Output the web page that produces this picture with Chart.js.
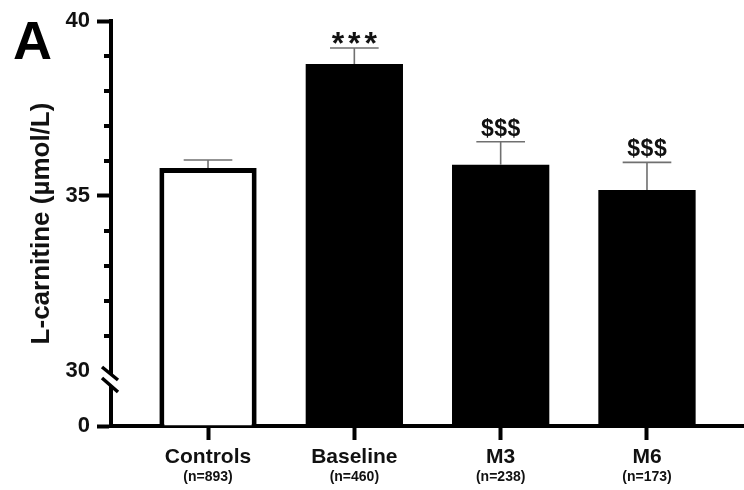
<!DOCTYPE html>
<html>
<head>
<meta charset="utf-8">
<script src="https://cdn.jsdelivr.net/npm/chart.js@4.4.1/dist/chart.umd.min.js"></script>
<style>
  html, body { margin: 0; padding: 0; background: #ffffff; }
  #wrap { width: 744px; height: 490px; }
</style>
</head>
<body>
<div id="wrap"><canvas id="c" width="744" height="490"></canvas></div>
<script>
// ---- data ----
const categories = ['Controls', 'Baseline', 'M3', 'M6'];
const nLabels = ['(n=893)', '(n=460)', '(n=238)', '(n=173)'];
const means = [35.80, 38.77, 35.89, 35.17];
const sems = [0.23, 0.46, 0.66, 0.79];
const marks = ['', '***', '$$$', '$$$'];
const yTickValues = [0, 30, 35, 40];
const yMinorValues = [31, 32, 33, 34, 36, 37, 38, 39];
const yBreak = 30;
const positions = categories.map((c, i) => i);
const fills = ['#ffffff', '#000000', '#000000', '#000000'];
const borderWidths = [5, 0, 0, 0];

const FONT = "'Liberation Sans', Arial, sans-serif";
const LOW_FRAC = 55 / 405; // share of axis height given to 0..30 segment

// ---- broken linear scale ----
class BrokenScale extends Chart.LinearScale {
  static id = 'broken';
  static defaults = {};
  buildTicks() {
    return yTickValues.map(v => ({ value: v }));
  }
  getPixelForValue(value) {
    if (value === null || value === undefined || isNaN(value)) return NaN;
    let d;
    if (value <= yBreak) {
      d = (value - this.min) / (yBreak - this.min) * LOW_FRAC;
    } else {
      d = LOW_FRAC + (value - yBreak) / (this.max - yBreak) * (1 - LOW_FRAC);
    }
    return this.getPixelForDecimal(d);
  }
  getValueForPixel(pixel) {
    const d = this.getDecimalForPixel(pixel);
    if (d <= LOW_FRAC) return this.min + d / LOW_FRAC * (yBreak - this.min);
    return yBreak + (d - LOW_FRAC) / (1 - LOW_FRAC) * (this.max - yBreak);
  }
}
Chart.register(BrokenScale);

const decor = {
  id: 'decor',
  beforeDraw(chart) {
    const ctx = chart.ctx;
    ctx.save();
    ctx.fillStyle = '#ffffff';
    ctx.fillRect(0, 0, chart.width, chart.height);
    ctx.restore();
  },
  afterDatasetsDraw(chart) {
    const ctx = chart.ctx;
    const ys = chart.scales.y;
    const meta = chart.getDatasetMeta(0);
    ctx.save();
    meta.data.forEach((bar, i) => {
      const x = bar.x;
      const yBar = ys.getPixelForValue(means[i]);
      const yCap = ys.getPixelForValue(means[i] + sems[i]);
      const half = bar.width / 4;
      ctx.strokeStyle = '#707070';
      ctx.lineWidth = 1.6;
      ctx.beginPath();
      ctx.moveTo(x, yBar);
      ctx.lineTo(x, yCap);
      ctx.moveTo(x - half, yCap);
      ctx.lineTo(x + half, yCap);
      ctx.stroke();
      const txt = marks[i];
      if (txt) {
        const star = txt.indexOf('*') >= 0;
        ctx.font = (star ? 'bold 32px ' : 'bold 23px ') + FONT;
        const ls = star ? 4 : 0.5;
        try { ctx.letterSpacing = ls + 'px'; } catch (e) {}
        ctx.fillStyle = '#111111';
        ctx.textAlign = 'left';
        ctx.textBaseline = 'alphabetic';
        const m = ctx.measureText(txt);
        const w = m.width - ls;
        const desc = m.actualBoundingBoxDescent || 0;
        ctx.fillText(txt, x - w / 2, yCap - 4 - desc);
        try { ctx.letterSpacing = '0px'; } catch (e) {}
      }
    });
    ctx.restore();
  },
  afterDraw(chart) {
    const ctx = chart.ctx;
    const ys = chart.scales.y;
    const axisX = ys.right;
    ctx.save();
    // minor ticks
    ctx.strokeStyle = '#000000';
    ctx.lineWidth = 4;
    ctx.beginPath();
    yMinorValues.forEach(v => {
      const py = Math.round(ys.getPixelForValue(v));
      ctx.moveTo(axisX - 7, py);
      ctx.lineTo(axisX, py);
    });
    ctx.stroke();
    // axis break
    const y30 = ys.getPixelForValue(yBreak);
    const c = y30 + 8.5;
    ctx.fillStyle = '#ffffff';
    ctx.beginPath();
    ctx.moveTo(axisX - 9, c - 12.5);
    ctx.lineTo(axisX + 7, c + 0.5);
    ctx.lineTo(axisX + 7, c + 12.5);
    ctx.lineTo(axisX - 9, c - 1.5);
    ctx.closePath();
    ctx.fill();
    ctx.fillRect(axisX - 3, c - 3.5, 6, 8);
    ctx.strokeStyle = '#000000';
    ctx.lineWidth = 3.5;
    ctx.beginPath();
    ctx.moveTo(axisX - 9, c - 12.5);
    ctx.lineTo(axisX + 7, c + 0.5);
    ctx.moveTo(axisX - 9, c - 1.5);
    ctx.lineTo(axisX + 7, c + 12.5);
    ctx.stroke();
    // panel letter
    ctx.fillStyle = '#000000';
    ctx.font = 'bold 54px ' + FONT;
    ctx.textAlign = 'left';
    ctx.textBaseline = 'alphabetic';
    ctx.fillText('A', 13, 59);
    ctx.restore();
  }
};

const xTickSetter = (scale) => { scale.ticks = positions.map(v => ({ value: v })); };

new Chart(document.getElementById('c'), {
  type: 'bar',
  data: {
    datasets: [{
      data: positions.map((p, i) => ({ x: p, y: means[i] })),
      backgroundColor: fills,
      borderColor: '#000000',
      borderWidth: borderWidths,
      borderSkipped: 'start',
      barPercentage: 0.665,
      categoryPercentage: 1.0,
      xAxisID: 'x',
      yAxisID: 'y'
    }]
  },
  options: {
    responsive: false,
    animation: false,
    devicePixelRatio: 1,
    layout: { padding: { top: 21, right: 0, bottom: 0, left: 0 } },
    plugins: { legend: { display: false }, tooltip: { enabled: false }, title: { display: false } },
    scales: {
      x: {
        type: 'linear',
        position: 'bottom',
        offset: false,
        min: -0.663,
        max: 3.663,
        afterBuildTicks: xTickSetter,
        afterFit: (scale) => { scale.height = 44; },
        grid: { display: true, offset: false, drawOnChartArea: false, drawTicks: true, tickLength: 14, tickWidth: 4, tickColor: '#000000' },
        border: { display: true, width: 4, color: '#000000' },
        ticks: {
          autoSkip: false, maxRotation: 0, padding: 5, color: '#111111',
          font: { family: FONT, size: 21, weight: 'bold' },
          callback: (v) => categories[v] ?? ''
        }
      },
      x2: {
        type: 'linear',
        position: 'bottom',
        offset: false,
        min: -0.663,
        max: 3.663,
        afterBuildTicks: xTickSetter,
        afterFit: (scale) => { scale.height = 20; },
        grid: { display: false, offset: false, drawTicks: false },
        border: { display: false },
        ticks: {
          autoSkip: false, maxRotation: 0, padding: 0, color: '#111111',
          font: { family: FONT, size: 14, weight: 'bold', lineHeight: 1 },
          callback: (v) => nLabels[v] ?? ''
        }
      },
      y: {
        type: 'broken',
        position: 'left',
        min: 0,
        max: 40,
        afterFit: (scale) => { scale.width = 111; },
        grid: {
          display: true, drawOnChartArea: false, drawTicks: true, tickLength: 14, tickWidth: 4,
          tickColor: (ctx) => (ctx.tick && ctx.tick.value === yBreak) ? 'rgba(0,0,0,0)' : '#000000'
        },
        border: { display: true, width: 4, color: '#000000' },
        ticks: {
          padding: 7, color: '#111111',
          font: { family: FONT, size: 22, weight: 'bold' },
          callback: (v) => String(v)
        },
        title: {
          display: true,
          text: 'L-carnitine (µmol/L)',
          color: '#111111',
          font: { family: FONT, size: 26, weight: 'bold' },
          padding: { top: 26, bottom: 0 }
        }
      }
    }
  },
  plugins: [decor]
});
</script>
</body>
</html>
